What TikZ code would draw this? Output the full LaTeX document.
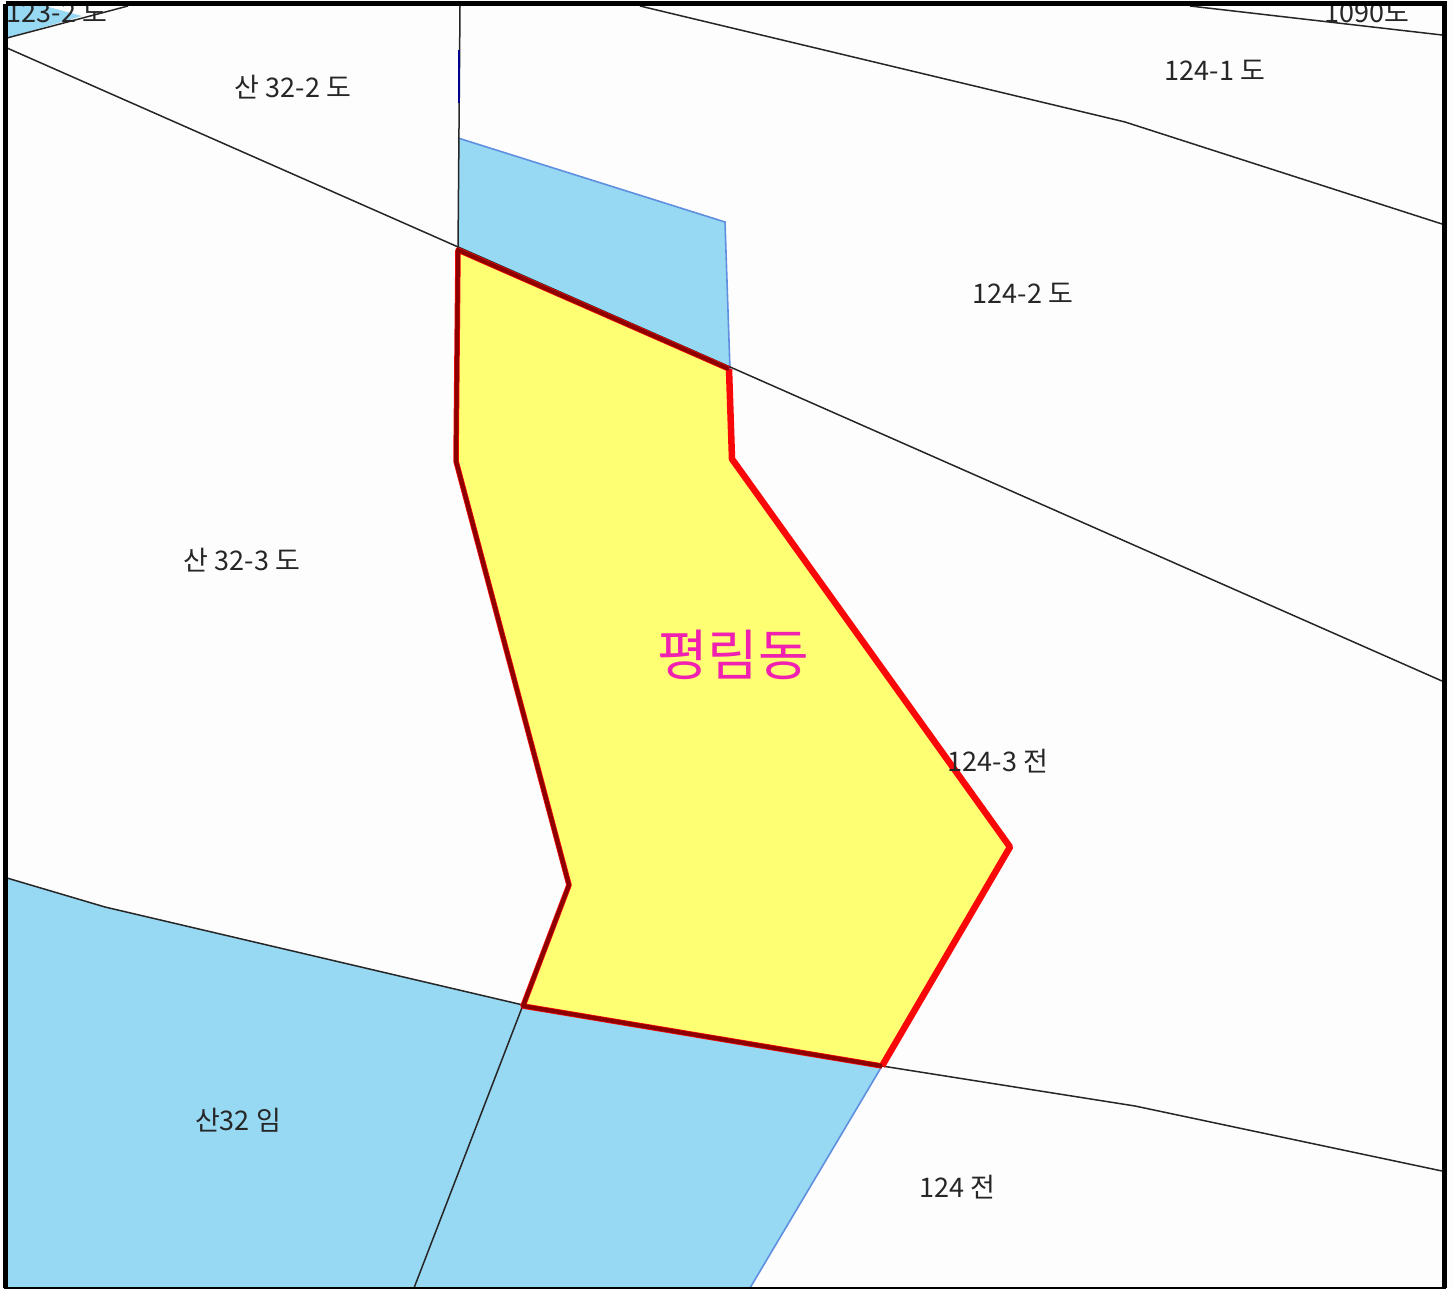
\documentclass[tikz,border=0pt]{standalone}
\usepackage{fontspec}
\setmainfont{Liberation Sans}
\newfontfamily\cjk{Noto Sans CJK KR}
\definecolor{parcelblue}{HTML}{97D8F2}
\definecolor{bluefringe}{HTML}{5F8FE0}
\definecolor{siteyellow}{HTML}{FFFF73}
\definecolor{sitered}{HTML}{F80808}
\definecolor{darkred}{HTML}{8C0000}
\definecolor{labelpink}{HTML}{F020B0}
\definecolor{paper}{HTML}{FDFDFD}
\tikzset{
  x=1pt,y=-1pt,
  parcel/.style={draw=black!85,line width=1.5pt},
  bluefill/.style={fill=parcelblue,draw=none},
  blueedge/.style={draw=bluefringe,line width=1.6pt},
  redb/.style={draw=sitered,line width=6.5pt,line join=round},
  darkb/.style={draw=darkred,line width=4pt,line join=round},
  lbl/.style={font=\cjk\fontsize{27}{29}\selectfont,text=black!85,inner sep=0pt,anchor=center},
}
\begin{document}
\begin{tikzpicture}
\useasboundingbox (0,0) rectangle (1454,1289);
\fill[paper] (0,0) rectangle (1454,1289);
% blue parcels
\fill[bluefill] (7,6) -- (45,6) -- (82,16) -- (7,38) -- cycle;
\fill[bluefill] (458,138) -- (725,222) -- (730,370) -- (458,250) -- cycle;
\fill[bluefill] (7,878) -- (105,907) -- (523,1005) -- (882,1066) -- (750,1288) -- (7,1288) -- cycle;
% blue edges
\draw[blueedge] (458,138) -- (725,222) -- (730,370);
\draw[blueedge] (882,1066) -- (750,1288);
% thin parcel lines
\coordinate (a1) at (7,48);
\coordinate (a2) at (1442,681);
\draw[parcel] (a1) -- (a2);
\draw[parcel] (7,38) -- (128,6);
\draw[parcel] (460,6) -- (458,250);
\draw[draw=blue!55!black,line width=2.6pt] (459,50) -- (459,103);
\draw[parcel] (640,6) -- (1125,122) -- (1442,224);
\draw[parcel] (1190,6) -- (1442,35);
\draw[parcel] (7,878) -- (105,907) -- (523,1005);
\draw[parcel] (882,1066) -- (1135,1106) -- (1442,1171);
\draw[parcel] (523,1005) -- (414,1288);
% site
\fill[siteyellow] (458,250) -- (729,369) -- (732,459) -- (1010,847) -- (882,1066) -- (523,1006) -- (569,885) -- (456,461) -- (457,355) -- cycle;
\draw[redb] (729,369) -- (732,459) -- (1010,847) -- (882,1066);
\draw[sitered,line width=5.5pt,line join=round] (882,1066) -- (523,1006) -- (569,885) -- (456,461) -- (457,355) -- (458,250) -- (729,369);
\draw[darkb] (882,1066) -- (523,1006) -- (569,885) -- (456,461) -- (457,355) -- (458,250) -- (729,369);
% labels
\node[lbl] (l1) at (293,87) {산 32-2 도};
\node[lbl] (l2) at (1215,70) {124-1 도};
\node[lbl] (l3) at (1023,293) {124-2 도};
\node[lbl] (l4) at (242,560) {산 32-3 도};
\node[lbl] (l5) at (998,761) {124-3 전};
\node[lbl] (l6) at (238,1120) {산32 임};
\node[lbl] (l7) at (957,1187) {124 전};
\node[font=\cjk\fontsize{55}{60}\selectfont,text=labelpink,inner sep=0pt] (l8) at (733,655) {평림동};
\begin{scope}
\clip (7,6) rectangle (1442,1288);
\node[lbl] (l9) at (57,13) {123-2 도};
\node[lbl] (l10) at (1367,13) {1090도};
\end{scope}
% frame
\draw[black,line width=5pt] (5.5,4) -- (1444,4) -- (1444,1288);
\draw[black,line width=5pt] (5.5,4) -- (5.5,1288);
\draw[black,line width=3pt] (4,1288) -- (1446,1288);
\end{tikzpicture}
\end{document}
